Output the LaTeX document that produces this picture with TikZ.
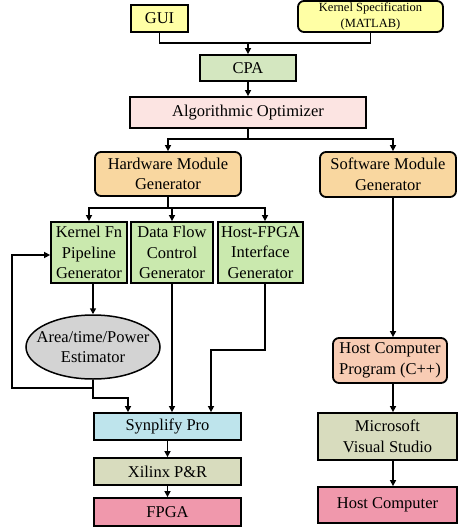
\documentclass[tikz,border=0pt]{standalone}
\usepackage{fontspec}
\setmainfont{Liberation Serif}
\newfontfamily\diagfont{Liberation Serif}
\usetikzlibrary{positioning,arrows.meta,shapes.geometric}
\definecolor{inyellow}{RGB}{255,255,165}
\definecolor{cpagreen}{RGB}{212,231,192}
\definecolor{optpink}{RGB}{252,228,226}
\definecolor{gentan}{RGB}{249,215,160}
\definecolor{modgreen}{RGB}{202,233,174}
\definecolor{estgray}{RGB}{211,211,211}
\definecolor{synblue}{RGB}{190,228,236}
\definecolor{toolkhaki}{RGB}{216,220,190}
\definecolor{hwpink}{RGB}{240,152,172}
\definecolor{progpeach}{RGB}{248,204,180}

\begin{document}
\begin{tikzpicture}[x=1pt,y=-1pt,
  box/.style={draw,line width=1.8pt,align=center,inner sep=0pt,font=\diagfont\fontsize{16.5}{20.5}\selectfont},
  rbox/.style={box,rounded corners=6pt},
  conn/.style={line width=1.5pt},
  arr/.style={conn,-{Triangle[length=6pt,width=6pt]}}]
\useasboundingbox (0,0) rectangle (457,529);
% inputs
\node[box,fill=inyellow,minimum width=57pt,minimum height=27pt] (gui) at (159.5,18.5) {GUI};
\node[rbox,fill=inyellow,minimum width=145pt,minimum height=31pt,font=\diagfont\fontsize{12.5}{15.5}\selectfont] (kspec) at (370.5,16.5) {Kernel Specification\\(MATLAB)};
\node[box,fill=cpagreen,minimum width=96pt,minimum height=26pt] (cpa) at (248,68) {CPA};
\node[box,fill=optpink,minimum width=236pt,minimum height=31pt] (algo) at (248,112.5) {Algorithmic Optimizer};
% generators
\node[rbox,fill=gentan,minimum width=146pt,minimum height=44pt] (hwgen) at (168,174) {Hardware Module\\Generator};
\node[rbox,fill=gentan,minimum width=136pt,minimum height=45pt] (swgen) at (388,174.5) {Software Module\\Generator};
\node[box,fill=modgreen,minimum width=76pt,minimum height=61pt] (kfn) at (89,252.5) {Kernel Fn\\Pipeline\\Generator};
\node[box,fill=modgreen,minimum width=82pt,minimum height=61pt] (dfc) at (172,252.5) {Data Flow\\Control\\Generator};
\node[box,fill=modgreen,minimum width=85pt,minimum height=61pt] (hfi) at (260.5,252.5) {Host-FPGA\\Interface\\Generator};
\node[ellipse,draw,line width=1.5pt,fill=estgray,minimum width=134pt,minimum height=64pt] (est) at (93,347) {};
\node[align=center,font=\diagfont\fontsize{16.5}{20.5}\selectfont] (esttxt) at (est.center) {Area/time/Power\\Estimator};
% hardware flow
\node[box,fill=synblue,minimum width=147pt,minimum height=27pt] (synp) at (167.5,426.5) {Synplify Pro};
\node[box,fill=toolkhaki,minimum width=147pt,minimum height=27pt] (xil) at (167.5,471.5) {Xilinx P\&R};
\node[box,fill=hwpink,minimum width=147pt,minimum height=28pt] (fpga) at (167.5,512) {FPGA};
% software flow
\node[rbox,fill=progpeach,minimum width=114pt,minimum height=45pt] (hcprog) at (390,360.5) {Host Computer\\Program (C++)};
\node[box,fill=toolkhaki,minimum width=139pt,minimum height=47pt] (mvs) at (387.5,436.5) {Microsoft\\Visual Studio};
\node[box,fill=hwpink,minimum width=139pt,minimum height=36pt] (hcomp) at (387.5,505) {Host Computer};
% connectors
\coordinate (inj) at (248,43);
\coordinate (gsplit) at (248,139);
\coordinate (msplit) at (168,208);
\coordinate (swx) at (393,0);
\draw[conn] (gui.south) |- (inj) -| (kspec.south);
\draw[arr] (inj) -- (cpa.north);
\draw[arr] (cpa) -- (algo);
\draw[conn] (algo.south) -- (gsplit);
\draw[arr] (gsplit) -| (hwgen.north);
\draw[arr] (gsplit) -| (swgen.north -| swx);
\draw[conn] (hwgen.south) -- (msplit);
\draw[arr] (msplit) -| (kfn.north);
\draw[arr] (msplit) -| (dfc.north);
\draw[arr] (msplit) -| ([xshift=4.5pt]hfi.north);
\draw[arr] (kfn.south -| est.north) -- (est.north);
% estimator feedback and outputs to synthesis
\coordinate (fbtap) at (93,388);
\coordinate (fbcorner) at (12,388);
\coordinate (estbend) at (93,398);
\coordinate (hfibend) at (265,350);
\draw[arr] (est.south) -- (estbend) -| ([xshift=-39.5pt]synp.north);
\draw[arr] (fbtap) -- (fbcorner) |- ([yshift=-2.5pt]kfn.west);
\draw[arr] (dfc.south) -- (dfc.south |- synp.north);
\draw[arr] ([xshift=4.5pt]hfi.south) -- (hfibend) -| ([xshift=43.5pt]synp.north);
\draw[arr] (synp) -- (xil);
\draw[arr] (xil) -- (fpga);
\draw[arr] (swgen.south -| swx) -- (hcprog.north -| swx);
\draw[arr] (hcprog.south -| swx) -- (mvs.north -| swx);
\draw[arr] (mvs.south -| swx) -- (hcomp.north -| swx);
\end{tikzpicture}
\end{document}
